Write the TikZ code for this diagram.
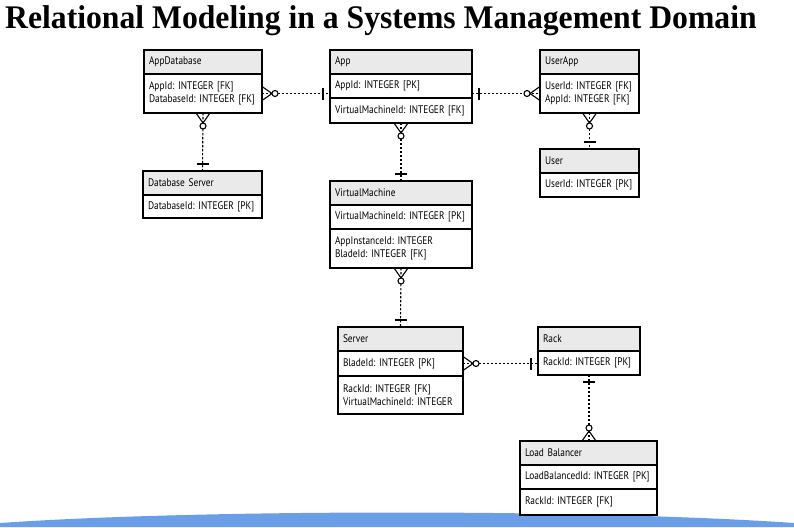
\documentclass[tikz,border=0pt]{standalone}
\usepackage{fontspec}
\usetikzlibrary{positioning}
\newfontfamily\titlefont[FakeStretch=0.96]{Liberation Serif}
\newfontfamily\tabfont[FakeStretch=0.85]{PT Sans}
\definecolor{hdrgray}{RGB}{234,234,234}
\definecolor{bandblue}{RGB}{108,158,232}

\tikzset{
  tbl/.style={draw, fill=white, line width=1.2pt, outer sep=0pt, inner xsep=5pt, inner ysep=2pt,
    align=left, font={\tabfont\fontsize{11}{13.5}\selectfont\frenchspacing\hyphenpenalty=10000\relax}},
  hdr/.style={tbl, fill=hdrgray, minimum height=24pt},
  erline/.style={line width=1.1pt},
  link/.style={erline, dash pattern=on 2.4pt off 1.6pt},
  many/.pic={\draw[erline] (0,-7) -- (10,0) -- (0,7); \draw[erline, fill=white] (13,0) circle (3pt);},
  one/.pic={\draw[erline] (7,-6) -- (7,6);}
}

\begin{document}
\begin{tikzpicture}[x=1pt, y=-1pt]
  \useasboundingbox (0,0) rectangle (794,527);

  % Title
  \node[anchor=base west, inner sep=0pt, font=\titlefont\bfseries\fontsize{33}{36}\selectfont] (title) at (5,29)
    {Relational Modeling in a Systems Management Domain};

  % Blue band at the bottom
  \fill[bandblue] (0,527) -- (0,523) .. controls (200,509) and (594,509) .. (794,523) -- (794,527) -- cycle;

  % AppDatabase
  \node[hdr, text width=108pt, anchor=north west] (adb) at (144,50) {AppDatabase};
  \node[tbl, text width=108pt, minimum height=39pt, below=0pt of adb] (adb1) {AppId: INTEGER [FK]\\DatabaseId: INTEGER [FK]};

  % App
  \node[hdr, text width=132pt, anchor=north west] (app) at (330,50) {App};
  \node[tbl, text width=132pt, minimum height=24pt, below=0pt of app] (app1) {AppId: INTEGER [PK]};
  \node[tbl, text width=132pt, minimum height=25pt, below=0pt of app1] (app2) {VirtualMachineId: INTEGER [FK]};

  % UserApp
  \node[hdr, text width=89pt, anchor=north west] (ua) at (540,50) {UserApp};
  \node[tbl, text width=89pt, minimum height=39pt, below=0pt of ua] (ua1) {UserId: INTEGER [FK]\\AppId: INTEGER [FK]};

  % User
  \node[hdr, text width=89pt, anchor=north west] (usr) at (540,149) {User};
  \node[tbl, text width=89pt, minimum height=24pt, below=0pt of usr] (usr1) {UserId: INTEGER [PK]};

  % Database Server
  \node[hdr, text width=109pt, anchor=north west] (dbs) at (143,171) {Database Server};
  \node[tbl, text width=109pt, minimum height=23pt, below=0pt of dbs] (dbs1) {DatabaseId: INTEGER [PK]};

  % VirtualMachine
  \node[hdr, text width=132pt, anchor=north west] (vm) at (330,181) {VirtualMachine};
  \node[tbl, text width=132pt, minimum height=24pt, below=0pt of vm] (vm1) {VirtualMachineId: INTEGER [PK]};
  \node[tbl, text width=132pt, minimum height=39pt, below=0pt of vm1] (vm2) {AppInstanceId: INTEGER\\BladeId: INTEGER [FK]};

  % Server
  \node[hdr, text width=115pt, anchor=north west] (srv) at (338,327) {Server};
  \node[tbl, text width=115pt, minimum height=25pt, below=0pt of srv] (srv1) {BladeId: INTEGER [PK]};
  \node[tbl, text width=115pt, minimum height=38pt, below=0pt of srv1] (srv2) {RackId: INTEGER [FK]\\VirtualMachineId: INTEGER};

  % Rack
  \node[hdr, text width=92pt, anchor=north west] (rk) at (538,327) {Rack};
  \node[tbl, text width=92pt, minimum height=24pt, below=0pt of rk] (rk1) {RackId: INTEGER [PK]};

  % Load Balancer
  \node[hdr, text width=127pt, anchor=north west] (lb) at (520,441) {Load Balancer};
  \node[tbl, text width=127pt, minimum height=24pt, below=0pt of lb] (lb1) {LoadBalancedId: INTEGER [PK]};
  \node[tbl, text width=127pt, minimum height=26pt, below=0pt of lb1] (lb2) {RackId: INTEGER [FK]};

  % Relations (crow's foot at the many side, bar at the one side)
  \draw[link] (adb1.east) -- (adb1.east -| app1.west);
  \pic at (adb1.east) {many};
  \pic[rotate=180] at (adb1.east -| app1.west) {one};

  \draw[link] (ua1.west -| app1.east) -- (ua1.west);
  \pic[rotate=180] at (ua1.west) {many};
  \pic at (ua1.west -| app1.east) {one};

  \draw[link] (adb1.south) -- (dbs.north);
  \pic[rotate=-90] at (adb1.south) {many};
  \pic[rotate=90] at (dbs.north) {one};

  \draw[link] (app2.south) -- (vm.north);
  \pic[rotate=-90] at (app2.south) {many};
  \pic[rotate=90] at (vm.north) {one};

  \draw[link] (ua1.south) -- (usr.north);
  \pic[rotate=-90] at (ua1.south) {many};
  \pic[rotate=90] at (usr.north) {one};

  \draw[link] (vm2.south) -- (srv.north);
  \pic[rotate=-90] at (vm2.south) {many};
  \pic[rotate=90] at (srv.north) {one};

  \draw[link] (srv1.east) -- (srv1.east -| rk1.west);
  \pic at (srv1.east) {many};
  \pic[rotate=180] at (srv1.east -| rk1.west) {one};

  \draw[link] (rk1.south) -- (rk1.south |- lb.north);
  \pic[rotate=-90] at (rk1.south) {one};
  \pic[rotate=90] at (rk1.south |- lb.north) {many};
\end{tikzpicture}
\end{document}
